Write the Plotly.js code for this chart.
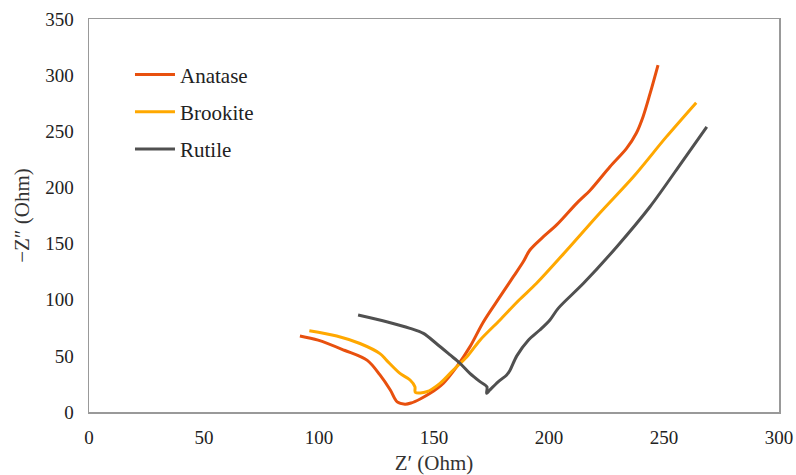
<!DOCTYPE html>
<html>
<head>
<meta charset="utf-8">
<script src="https://cdn.plot.ly/plotly-3.0.1.min.js"></script>
<style>html,body{margin:0;padding:0;background:#fff;}#chart{width:796px;height:475px;}</style>
</head>
<body>
<div id="chart"></div>
<script>
const seriesNames = ["Anatase", "Brookite", "Rutile"];
const anataseX = [91.7, 99.6, 111, 121, 126.5, 131, 134, 137.4, 140, 144, 148.3, 154, 159.9, 165.6, 171.4, 178.7, 184.5, 188.8, 191.7, 196.8, 203.3, 212, 218, 226.5, 233.8, 238, 240.9, 244, 247.4];
const anataseY = [67.7, 64, 55, 46, 33, 19.6, 9, 7, 8, 11.6, 16.6, 25.5, 40.4, 58, 80, 102.7, 120.5, 133.8, 144.3, 154.7, 166.6, 185.8, 197.7, 218.4, 235, 248.5, 263, 284, 309];
const brookiteX = [95.8, 107.7, 117.8, 126.5, 129.4, 135.2, 139.6, 141.7, 141.9, 146.8, 152.6, 158.4, 164.2, 170, 178.7, 187, 194.6, 207.7, 222, 236.7, 251, 264];
const brookiteY = [72.4, 67.7, 61, 52, 46, 34.4, 28.5, 22.5, 17.5, 18, 25.5, 37.4, 49, 64, 82, 99.7, 114.6, 144, 177, 209.5, 245, 275.5];
const rutileX = [117, 129.4, 139.6, 145.4, 151, 157, 161.3, 165.6, 170, 173, 172.9, 174.3, 178, 181.6, 183, 186, 191, 196, 200.4, 204, 215, 229.4, 243.9, 258.4, 268.6];
const rutileY = [86.4, 80.4, 74.5, 70, 61, 50.8, 43.4, 34.4, 27, 22.5, 16.6, 19.6, 27, 33, 37, 50, 64, 73, 82, 92.3, 114.6, 147, 182.8, 224.4, 254];
const xTicks = [0, 50, 100, 150, 200, 250, 300];
const yTicks = [0, 50, 100, 150, 200, 250, 300, 350];
const colors = ["#E8500E", "#FFA800", "#505050"];

const xs = [anataseX, brookiteX, rutileX];
const ys = [anataseY, brookiteY, rutileY];
const traces = seriesNames.map((n, i) => ({
  x: xs[i], y: ys[i], name: n, type: "scatter", mode: "lines",
  legendgroup: "g" + i,
  line: {color: colors[i], width: 3, shape: "spline", smoothing: 0.9}
}));

const fontFam = "'Liberation Serif', 'Times New Roman', serif";
const layout = {
  width: 796, height: 475,
  margin: {l: 89, r: 17, t: 19, b: 63},
  paper_bgcolor: "#fff", plot_bgcolor: "#fff",
  font: {family: fontFam, size: 19, color: "#222"},
  showlegend: true,
  legend: {x: 0.0594, y: 0.91, xanchor: "left", yanchor: "top", bgcolor: "rgba(0,0,0,0)",
           font: {family: fontFam, size: 21, color: "#222"}, itemwidth: 40,
           traceorder: "grouped", tracegroupgap: 7},
  xaxis: {range: [0, 300], tickvals: xTicks, ticktext: xTicks.map(String),
          showgrid: false, zeroline: false, showline: true, mirror: true,
          linecolor: "#999", linewidth: 1.5, ticks: "outside", ticklen: 8, tickcolor: "rgba(0,0,0,0)",
          tickfont: {family: fontFam, size: 19, color: "#222"},
          title: {text: "Z′ (Ohm)", standoff: 10, font: {family: fontFam, size: 21, color: "#333"}}},
  yaxis: {range: [0, 350], tickvals: yTicks, ticktext: yTicks.map(String),
          showgrid: false, zeroline: false, showline: true, mirror: true,
          linecolor: "#999", linewidth: 1.5, ticks: "outside", ticklen: 10, tickcolor: "rgba(0,0,0,0)",
          tickfont: {family: fontFam, size: 19, color: "#222"},
          title: {text: "−Z″ (Ohm)", standoff: 10, font: {family: fontFam, size: 21, color: "#333"}}}
};
Plotly.newPlot("chart", traces, layout, {displayModeBar: false, staticPlot: true});
</script>
</body>
</html>
